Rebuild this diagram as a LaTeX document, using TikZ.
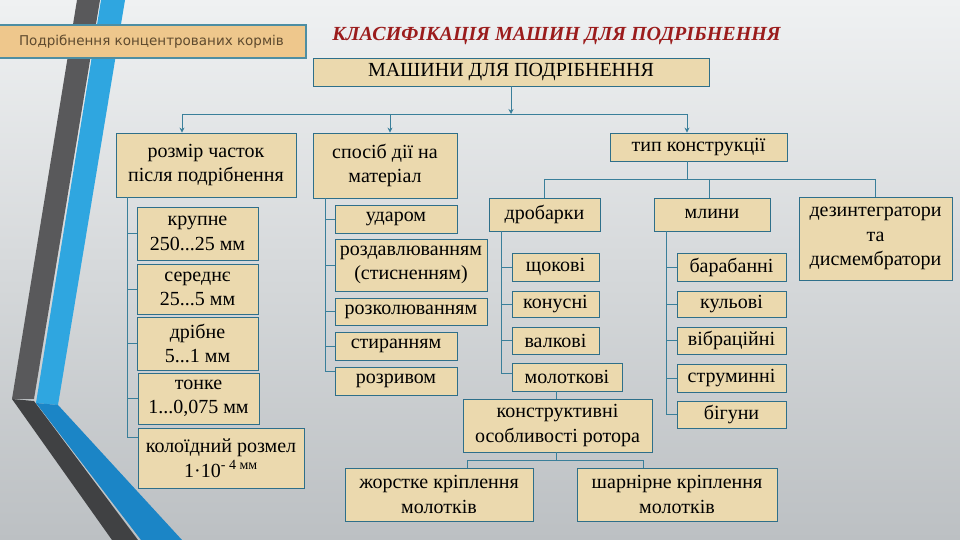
\documentclass[tikz,border=0pt]{standalone}
\usepackage{fontspec}
\setmainfont{Liberation Serif}
\newfontfamily\labelfont{DejaVu Sans}
\usetikzlibrary{arrows.meta}
\definecolor{bgtop}{HTML}{EFF1F2}
\definecolor{bgbot}{HTML}{BCC0C3}
\definecolor{parch}{HTML}{EBD9AE}
\definecolor{boxline}{HTML}{2E6F8A}
\definecolor{connc}{HTML}{3A7F9A}
\definecolor{titlered}{HTML}{9B1C1C}
\definecolor{labfill}{HTML}{EEC78C}
\definecolor{labline}{HTML}{4D8EA3}
\definecolor{labtext}{HTML}{5E4A2E}
\definecolor{darkA}{HTML}{59595B}
\definecolor{darkB}{HTML}{404143}
\definecolor{blueA}{HTML}{2FA6E0}
\definecolor{blueB}{HTML}{1B85C6}
\begin{document}
\begin{tikzpicture}[x=1pt,y=-1pt,
  box/.style={draw=boxline, line width=0.8pt, fill=parch, inner sep=0pt, align=center,
    font=\fontsize{20}{24.5}\selectfont, text=black},
  conn/.style={draw=connc, line width=0.9pt},
  arr/.style={conn, -{Stealth[length=5pt,width=5pt]}}]
\useasboundingbox (0,0) rectangle (960,540);
% background
\shade[top color=bgtop, bottom color=bgbot] (0,0) rectangle (960,540);
% decorative stripes
\fill[darkA] (77,0) -- (100,0) -- (34,399) -- (12,399) -- cycle;
\fill[darkB] (12,399) -- (34,401) -- (138,540) -- (112,540) -- cycle;
\fill[blueA] (101,0) -- (125,0) -- (58,405) -- (36,403) -- cycle;
\fill[blueB] (36,403) -- (58,405) -- (182,540) -- (141,540) -- cycle;
% top-left label
\node[draw=labline, line width=2pt, fill=labfill, minimum width=308pt, minimum height=33pt,
  inner sep=0pt, font=\labelfont\fontsize{13.5}{16}\selectfont, text=labtext] (lab) at (151.5,41.5)
  {Подрібнення концентрованих кормів};
% title
\node[font=\fontsize{20}{23}\selectfont\bfseries\itshape, text=titlered] (title) at (556.5,36)
  {КЛАСИФІКАЦІЯ МАШИН ДЛЯ ПОДРІБНЕННЯ};
% level 0/1
\node[box, minimum width=396pt, minimum height=28pt] (main) at (511,72) {МАШИНИ ДЛЯ ПОДРІБНЕННЯ};
\node[box, minimum width=180pt, minimum height=64pt] (rozmir) at (206,165) {розмір часток\\після подрібнення};
\node[box, minimum width=144pt, minimum height=65pt] (sposib) at (385,165.5) {спосіб дії на\\матеріал};
\node[box, minimum width=177pt, minimum height=28pt] (typ) at (698.5,147) {тип конструкції};
% type level
\node[box, minimum width=111pt, minimum height=33pt] (drob) at (544.5,214.5) {дробарки};
\node[box, minimum width=116pt, minimum height=33pt] (mlyny) at (712,214.5) {млини};
\node[box, minimum width=153pt, minimum height=83pt] (dez) at (875.5,238.5) {дезинтегратори\\та\\дисмембратори};
% drobarky list
\node[box, minimum width=87pt, minimum height=28pt] (shch) at (555.5,267) {щокові};
\node[box, minimum width=87pt, minimum height=26pt] (konus) at (555.5,304) {конусні};
\node[box, minimum width=87pt, minimum height=27pt] (valk) at (555.5,340.5) {валкові};
\node[box, minimum width=110pt, minimum height=28pt] (molot) at (567,377) {молоткові};
% mlyny list
\node[box, minimum width=109pt, minimum height=28pt] (barab) at (731.5,267) {барабанні};
\node[box, minimum width=109pt, minimum height=26pt] (kul) at (731.5,304) {кульові};
\node[box, minimum width=109pt, minimum height=27pt] (vibr) at (731.5,340.5) {вібраційні};
\node[box, minimum width=109pt, minimum height=28pt] (strum) at (731.5,378) {струминні};
\node[box, minimum width=109pt, minimum height=27pt] (bih) at (731.5,414.5) {бігуни};
% rotor
\node[box, minimum width=189pt, minimum height=53pt] (konstr) at (557.5,425.5) {конструктивні\\особливості ротора};
\node[box, minimum width=188pt, minimum height=53pt] (zhorst) at (439,494.5) {жорстке кріплення\\молотків};
\node[box, minimum width=200pt, minimum height=53pt] (sharn) at (677,494.5) {шарнірне кріплення\\молотків};
% size list
\node[box, minimum width=121pt, minimum height=53pt] (krup) at (197.5,233.5) {крупне\\250...25 мм};
\node[box, minimum width=121pt, minimum height=50pt] (sered) at (197.5,289) {середнє\\25...5 мм};
\node[box, minimum width=121pt, minimum height=53pt] (drib) at (197.5,343.5) {дрібне\\5...1 мм};
\node[box, minimum width=121pt, minimum height=51pt] (tonk) at (198.5,398.5) {тонке\\1...0,075 мм};
\node[box, minimum width=166pt, minimum height=60pt] (kol) at (221,458) {колоїдний розмел\\1·10\textsuperscript{- 4 мм}};
% action list
\node[box, minimum width=122pt, minimum height=28pt] (udar) at (396,219) {ударом};
\node[box, minimum width=152pt, minimum height=52pt] (rozdav) at (411,265) {роздавлюванням\\(стисненням)};
\node[box, minimum width=152pt, minimum height=27pt] (rozkol) at (411,311.5) {розколюванням};
\node[box, minimum width=122pt, minimum height=28pt] (styr) at (396,346) {стиранням};
\node[box, minimum width=122pt, minimum height=28pt] (rozr) at (396,381) {розривом};
% bus coordinates
\coordinate (b0) at (511,114);
\coordinate (b1) at (182,114);
\coordinate (b2) at (390,114);
\coordinate (b3) at (687,114);
\coordinate (t0) at (687,179);
\coordinate (t1) at (544,179);
\coordinate (t2) at (709,179);
\coordinate (t3) at (875,179);
\coordinate (r0) at (556,460);
\coordinate (r1) at (467,460);
\coordinate (r2) at (643,460);
\coordinate (lx) at (127,437);
\coordinate (mx) at (325,371);
\coordinate (dx) at (501,373);
% top connectors
\draw[arr] (main.south) -- (b0);
\draw[conn] (b1) -- (b3);
\draw[arr] (b1) -- (b1 |- rozmir.north);
\draw[arr] (b2) -- (b2 |- sposib.north);
\draw[arr] (b3) -- (b3 |- typ.north);
% type connectors
\draw[conn] (t0 |- typ.south) -- (t0);
\draw[conn] (t1) -- (t3);
\draw[conn] (t1) -- (t1 |- drob.north);
\draw[conn] (t2) -- (t2 |- mlyny.north);
\draw[conn] (t3) -- (t3 |- dez.north);
% drobarky list
\draw[conn] (dx |- drob.south) -- (dx) -- (dx -| molot.west);
\foreach \n in {shch,konus,valk} \draw[conn] (dx |- \n.west) -- (\n.west);
% mlyny list
\coordinate (my) at (666,0);
\draw[conn] (my |- mlyny.south) -- (my |- bih.west) -- (bih.west);
\foreach \n in {barab,kul,vibr,strum} \draw[conn] (my |- \n.west) -- (\n.west);
% size list
\draw[conn] (lx |- rozmir.south) -- (lx) -- (lx -| kol.west);
\foreach \n in {krup,sered,drib,tonk} \draw[conn] (lx |- \n.west) -- (\n.west);
% action list
\draw[conn] (mx |- sposib.south) -- (mx) -- (mx -| rozr.west);
\foreach \n in {udar,rozdav,rozkol,styr} \draw[conn] (mx |- \n.west) -- (\n.west);
% rotor
\draw[conn] (r0 |- molot.south) -- (r0 |- konstr.north);
\draw[conn] (r0 |- konstr.south) -- (r0);
\draw[conn] (r1) -- (r2);
\draw[conn] (r1) -- (r1 |- zhorst.north);
\draw[conn] (r2) -- (r2 |- sharn.north);
\end{tikzpicture}
\end{document}
